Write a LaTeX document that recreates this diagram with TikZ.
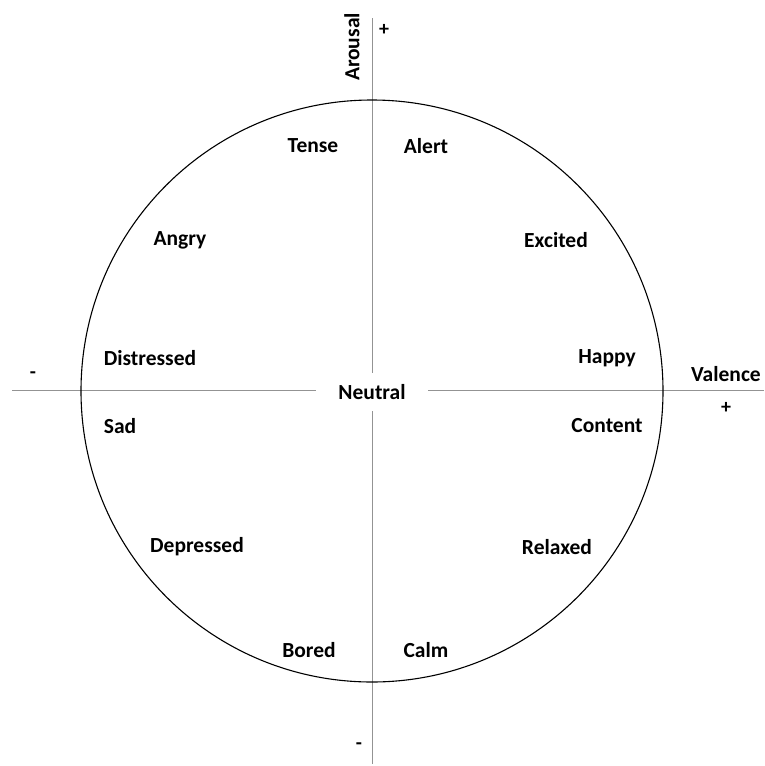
\documentclass[tikz,border=0pt]{standalone}
\usepackage{fontspec}
\setmainfont{Carlito}
\begin{document}
\begin{tikzpicture}[x=1pt,y=-1pt,
  lbl/.style={font=\bfseries\fontsize{21.5}{24}\selectfont, inner sep=0pt, anchor=center},
  axisline/.style={draw=gray!85, line width=1pt},
  sign/.style={font=\bfseries\fontsize{20}{22}\selectfont, inner sep=0pt}]
\useasboundingbox[fill=white] (0,0) rectangle (764,766);
\coordinate (L) at (12,390);
\coordinate (R) at (764,390);
\coordinate (T) at (372,18);
\coordinate (B) at (372,764);
\coordinate (O) at (372,391);
\draw[axisline] (L) -- (R);
\draw[axisline] (T) -- (B);
\draw[line width=1.1pt] (O) circle[radius=291];
\node[lbl, fill=white, inner xsep=22pt, inner ysep=11pt] (neutral) at (372,392) {Neutral};
\node[lbl] (tense) at (313,146) {Tense};
\node[lbl] (alert) at (426,146) {Alert};
\node[lbl] (angry) at (180,240) {Angry};
\node[lbl] (excited) at (556,240) {Excited};
\node[lbl] (distressed) at (150,358) {Distressed};
\node[lbl] (happy) at (607,358) {Happy};
\node[lbl] (sad) at (120,426) {Sad};
\node[lbl] (content) at (607,426) {Content};
\node[lbl] (depressed) at (197,547) {Depressed};
\node[lbl] (relaxed) at (557,547) {Relaxed};
\node[lbl] (bored) at (309,650) {Bored};
\node[lbl] (calm) at (426,650) {Calm};
\node[lbl, rotate=90] (arousal) at (352,47) {Arousal};
\node[lbl] (valence) at (726,374) {Valence};
\node[sign] (aplus) at (384,30) {+};
\node[sign] (vplus) at (726,408) {+};
\node[sign] (vminus) at (33,375) {-};
\node[sign] (aminus) at (359,746) {-};
\end{tikzpicture}
\end{document}
